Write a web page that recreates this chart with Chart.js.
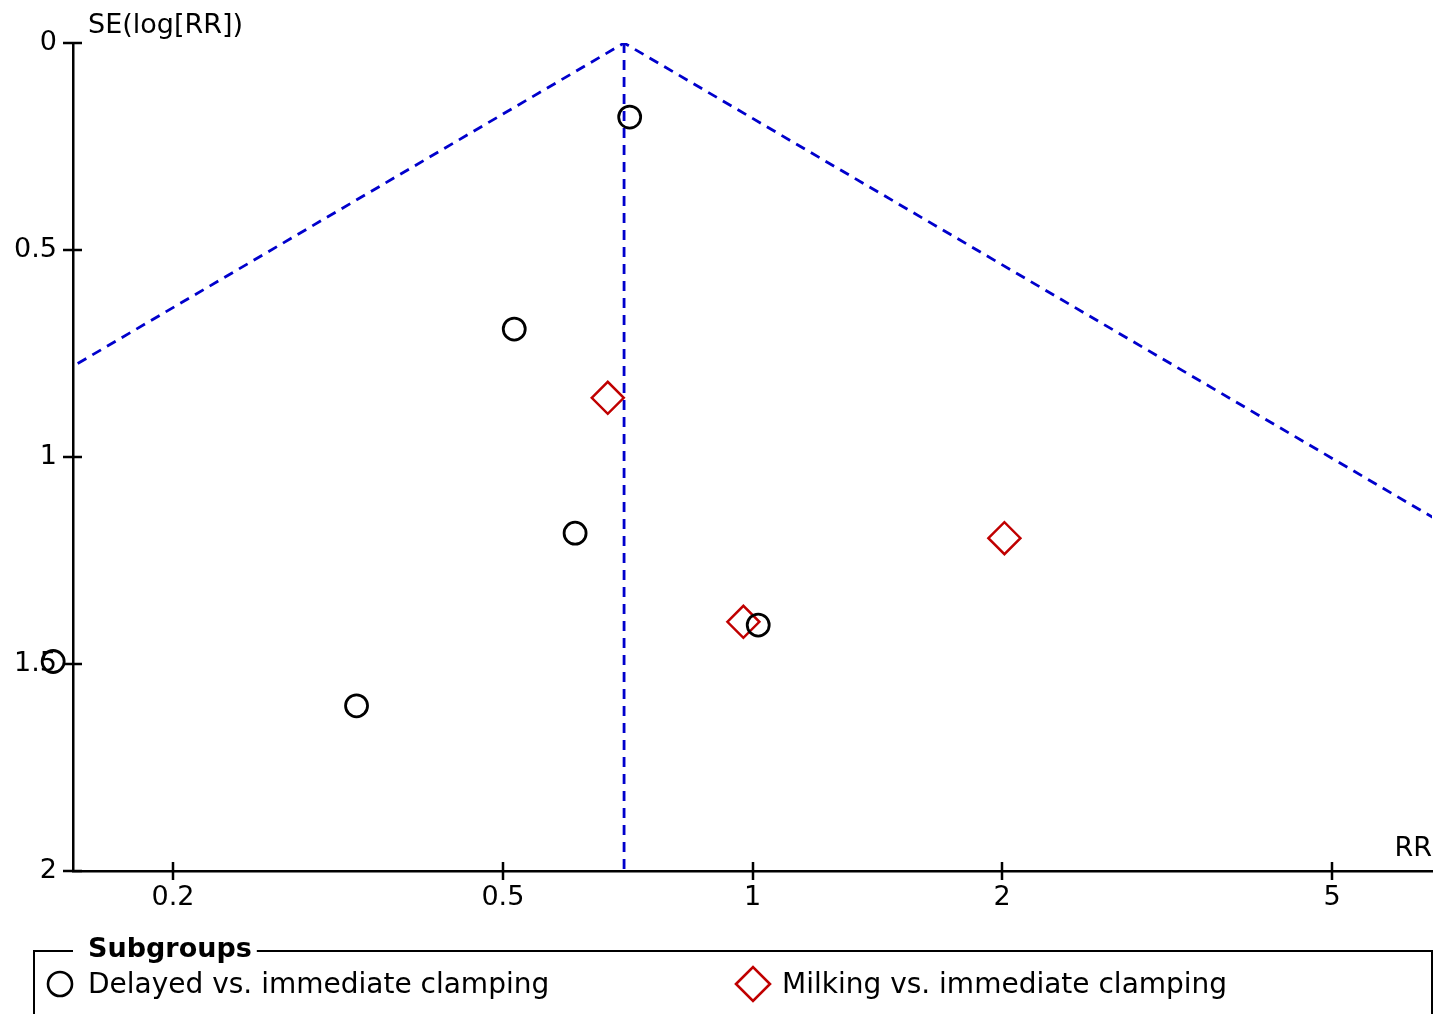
<!DOCTYPE html>
<html>
<head>
<meta charset="utf-8">
<title>Funnel plot</title>
<script src="https://cdn.jsdelivr.net/npm/chart.js@4.4.1/dist/chart.umd.min.js"></script>
<style>
  html, body { margin: 0; padding: 0; background: #ffffff; overflow: hidden; }
  #wrap { width: 1448px; height: 1014px; position: relative; }
  canvas { display: block; }
</style>
</head>
<body>
<div id="wrap"><canvas id="funnel" width="1448" height="1014"></canvas></div>
<script>
// Axis ticks and range
const xTickValues = [0.2, 0.5, 1, 2, 5];
const yTickValues = [0, 0.5, 1, 1.5, 2];
const xMin = 1 / 6.6;
const xMax = 6.6;

// Study estimates: risk ratio and standard error of log(RR)
const delayedRR = [0.711, 0.516, 0.611, 1.016, 0.1434, 0.333];
const delayedSE = [0.179, 0.691, 1.184, 1.406, 1.494, 1.601];
const milkingRR = [0.669, 2.013, 0.975];
const milkingSE = [0.857, 1.196, 1.398];

// Pooled estimate and funnel depth
const pooledRR = 0.700;
const seMax = 2;

const seriesNames = ['Delayed vs. immediate clamping', 'Milking vs. immediate clamping'];
const legendTitle = 'Subgroups';
const xTitle = 'RR';
const yTitle = 'SE(log[RR])';

const FONT = "'DejaVu Sans', sans-serif";
const BLUE = '#0000cc';
const RED = '#c00000';

const toPoints = (xs, ys) => xs.map((v, i) => ({ x: v, y: ys[i] }));

// 95% pseudo-confidence limits around the pooled estimate
const funnelLines = [
  { x: pooledRR * Math.exp(-1.96 * seMax), y: seMax },
  { x: pooledRR, y: 0 },
  { x: pooledRR * Math.exp(1.96 * seMax), y: seMax }
];
const pooledLine = [{ x: pooledRR, y: 0 }, { x: pooledRR, y: seMax }];

const decor = {
  id: 'decor',
  beforeDatasetsDraw(chart) {
    // tick marks crossing both axes
    const ctx = chart.ctx;
    const xs = chart.scales.x, ys = chart.scales.y;
    ctx.save();
    ctx.strokeStyle = '#000';
    ctx.lineWidth = 2.5;
    ctx.beginPath();
    xs.ticks.forEach(t => {
      const px = Math.round(xs.getPixelForValue(t.value));
      ctx.moveTo(px, xs.top - 9);
      ctx.lineTo(px, xs.top + 9);
    });
    ys.ticks.forEach(t => {
      const py = Math.round(ys.getPixelForValue(t.value));
      ctx.moveTo(ys.right - 10, py);
      ctx.lineTo(ys.right + 9, py);
    });
    ctx.stroke();
    ctx.restore();
  },
  afterDatasetsDraw(chart) {
    // points lying beyond the axis range are still shown
    const area = chart.chartArea;
    const ctx = chart.ctx;
    chart.data.datasets.forEach((ds, i) => {
      if (ds.showLine) return;
      const meta = chart.getDatasetMeta(i);
      meta.data.forEach(el => {
        if (el.x < area.left || el.x > area.right || el.y < area.top || el.y > area.bottom) {
          el.draw(ctx);
        }
      });
    });
  },
  afterDraw(chart) {
    const ctx = chart.ctx;
    const area = chart.chartArea;
    ctx.save();
    ctx.fillStyle = '#000';
    ctx.textBaseline = 'alphabetic';

    // axis titles
    ctx.font = '27px ' + FONT;
    ctx.textAlign = 'left';
    ctx.fillText(yTitle, area.left + 15, 33);
    ctx.textAlign = 'right';
    ctx.fillText(xTitle, area.right, 856);

    // legend frame with title set into the top edge
    const boxLeft = 34, boxTop = 951, boxRight = area.right;
    ctx.font = 'bold 27px ' + FONT;
    ctx.textAlign = 'left';
    const titleX = 88;
    ctx.fillText(legendTitle, titleX, 957);
    const titleW = ctx.measureText(legendTitle).width;
    ctx.strokeStyle = '#000';
    ctx.lineWidth = 2;
    ctx.beginPath();
    ctx.moveTo(boxLeft, chart.height + 5);
    ctx.lineTo(boxLeft, boxTop);
    ctx.lineTo(area.left, boxTop);
    ctx.moveTo(titleX + titleW + 5, boxTop);
    ctx.lineTo(boxRight, boxTop);
    ctx.lineTo(boxRight, chart.height + 5);
    ctx.stroke();

    // legend entries
    const entries = [
      { ds: chart.data.datasets[0], mx: 60, tx: 88, r: 12 },
      { ds: chart.data.datasets[1], mx: 753, tx: 782, r: 17 }
    ];
    ctx.font = '28px ' + FONT;
    entries.forEach(e => {
      ctx.save();
      ctx.strokeStyle = e.ds.borderColor;
      ctx.fillStyle = 'rgba(0,0,0,0)';
      ctx.lineWidth = 2.6;
      Chart.helpers.drawPoint(ctx, { pointStyle: e.ds.pointStyle, radius: e.r, borderWidth: 2.6, rotation: 0 }, e.mx, 984);
      ctx.restore();
      ctx.fillStyle = '#000';
      ctx.fillText(e.ds.label, e.tx, 993);
    });
    ctx.restore();
  }
};

const axisCommon = {
  grid: { display: false, drawTicks: false },
  border: { display: true, color: '#000', width: 2.5 },
  ticks: { color: '#000', font: { family: FONT, size: 27 }, autoSkip: false, maxRotation: 0 }
};

new Chart(document.getElementById('funnel'), {
  type: 'scatter',
  data: {
    datasets: [
      {
        label: seriesNames[0],
        data: toPoints(delayedRR, delayedSE),
        pointStyle: 'circle',
        pointRadius: 11,
        borderColor: '#000000',
        backgroundColor: 'rgba(0,0,0,0)',
        borderWidth: 2.8,
        order: 0
      },
      {
        label: seriesNames[1],
        data: toPoints(milkingRR, milkingSE),
        pointStyle: 'rectRot',
        pointRadius: 16,
        borderColor: RED,
        backgroundColor: 'rgba(0,0,0,0)',
        borderWidth: 2.5,
        order: 0
      },
      {
        label: 'funnel',
        data: funnelLines,
        showLine: true,
        borderColor: BLUE,
        borderWidth: 2.8,
        borderDash: [10, 7],
        pointRadius: 0,
        fill: false,
        tension: 0,
        order: 1
      },
      {
        label: 'pooled',
        data: pooledLine,
        showLine: true,
        borderColor: BLUE,
        borderWidth: 2.8,
        borderDash: [10, 7],
        pointRadius: 0,
        fill: false,
        order: 1
      }
    ]
  },
  options: {
    responsive: false,
    animation: false,
    events: [],
    layout: { autoPadding: false, padding: { left: 0, top: 43, right: 16, bottom: 0 } },
    plugins: { legend: { display: false }, tooltip: { enabled: false } },
    scales: {
      x: {
        ...axisCommon,
        type: 'logarithmic',
        position: 'bottom',
        bounds: 'data',
        min: xMin,
        max: xMax,
        afterBuildTicks: s => { s.ticks = xTickValues.map(v => ({ value: v })); },
        afterFit: s => { s.height = 143; s.paddingLeft = 0; s.paddingRight = 0; },
        ticks: { ...axisCommon.ticks, padding: 11, callback: v => String(v) }
      },
      y: {
        ...axisCommon,
        type: 'linear',
        position: 'left',
        reverse: true,
        min: 0,
        max: seMax,
        afterBuildTicks: s => { s.ticks = yTickValues.map(v => ({ value: v })); },
        afterFit: s => { s.width = 73; s.paddingTop = 0; s.paddingBottom = 0; },
        ticks: { ...axisCommon.ticks, padding: 16, callback: v => String(v) }
      }
    }
  },
  plugins: [decor]
});
</script>
</body>
</html>
